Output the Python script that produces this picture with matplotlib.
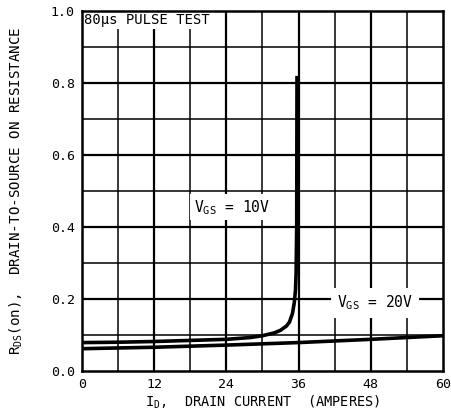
#!/usr/bin/env python

import matplotlib
matplotlib.use('Agg')
import matplotlib.pyplot as plt

# drain current (A) vs R_DS(on) (ohms)
id_10v = [0, 6, 12, 18, 24, 28, 30, 32, 33, 34, 34.5, 35, 35.3, 35.5, 35.6, 35.7, 35.75]
rds_10v = [0.079, 0.080, 0.082, 0.085, 0.088, 0.093, 0.098, 0.106, 0.113, 0.125,
           0.136, 0.160, 0.190, 0.225, 0.270, 0.400, 0.82]

id_20v = [0, 12, 24, 36, 48, 60]
rds_20v = [0.062, 0.066, 0.072, 0.079, 0.088, 0.098]

x_ticks = [0, 12, 24, 36, 48, 60]
y_ticks = [0.0, 0.2, 0.4, 0.6, 0.8, 1.0]
x_minor = [6, 18, 30, 42, 54]
y_minor = [0.1, 0.3, 0.5, 0.7, 0.9]

mono = 'DejaVu Sans Mono'
plt.rcParams['font.family'] = mono
plt.rcParams['mathtext.fontset'] = 'custom'
plt.rcParams['mathtext.rm'] = mono
plt.rcParams['mathtext.it'] = mono


def main():
    fig = plt.figure(figsize=(4.52, 4.12), dpi=100)
    ax = fig.add_axes([0.181, 0.0995, 0.799, 0.8735])

    # grid: heavier at labelled ticks, lighter in between
    for x in x_minor:
        ax.axvline(x, color='k', lw=1.1, zorder=1)
    for y in y_minor:
        ax.axhline(y, color='k', lw=1.1, zorder=1)
    for x in x_ticks[1:-1]:
        ax.axvline(x, color='k', lw=1.6, zorder=1)
    for y in y_ticks[1:-1]:
        ax.axhline(y, color='k', lw=1.6, zorder=1)

    ax.plot(id_10v, rds_10v, color='k', lw=2.6, zorder=3, solid_capstyle='butt')
    ax.plot(id_20v, rds_20v, color='k', lw=2.6, zorder=3)

    ax.set_xlim(0, 60)
    ax.set_ylim(0, 1.0)
    ax.set_xticks(x_ticks)
    ax.set_yticks(y_ticks)
    ax.set_xticklabels([str(v) for v in x_ticks])
    ax.set_yticklabels(['%.1f' % v for v in y_ticks])
    ax.tick_params(length=0, labelsize=9.5, pad=5)
    ax.tick_params(axis='x', pad=5)
    for s in ax.spines.values():
        s.set_linewidth(1.8)
        s.set_zorder(6)

    ax.text(0.3, 0.995, '80\u03bcs PULSE TEST', fontsize=10, ha='left', va='top',
            bbox=dict(facecolor='white', edgecolor='none', pad=1.5), zorder=4)
    ax.text(18.6, 0.455, 'V$_{\\mathrm{GS}}$ = 10V', fontsize=10.5, ha='left',
            va='center', bbox=dict(facecolor='white', edgecolor='none', pad=2.5),
            zorder=4)
    ax.text(42.4, 0.19, 'V$_{\\mathrm{GS}}$ = 20V', fontsize=10.5, ha='left',
            va='center', bbox=dict(facecolor='white', edgecolor='none', pad=4),
            zorder=4)

    ax.set_xlabel('I$_{\\mathrm{D}}$,  DRAIN CURRENT  (AMPERES)', fontsize=9.8, labelpad=2)
    ax.set_ylabel('R$_{\\mathrm{DS}}$(on),  DRAIN-TO-SOURCE ON RESISTANCE',
                  fontsize=10.2)
    ax.yaxis.set_label_coords(-0.158, 0.5)

    fig.savefig('out.png', dpi=100)


if __name__ == '__main__':
    main()
